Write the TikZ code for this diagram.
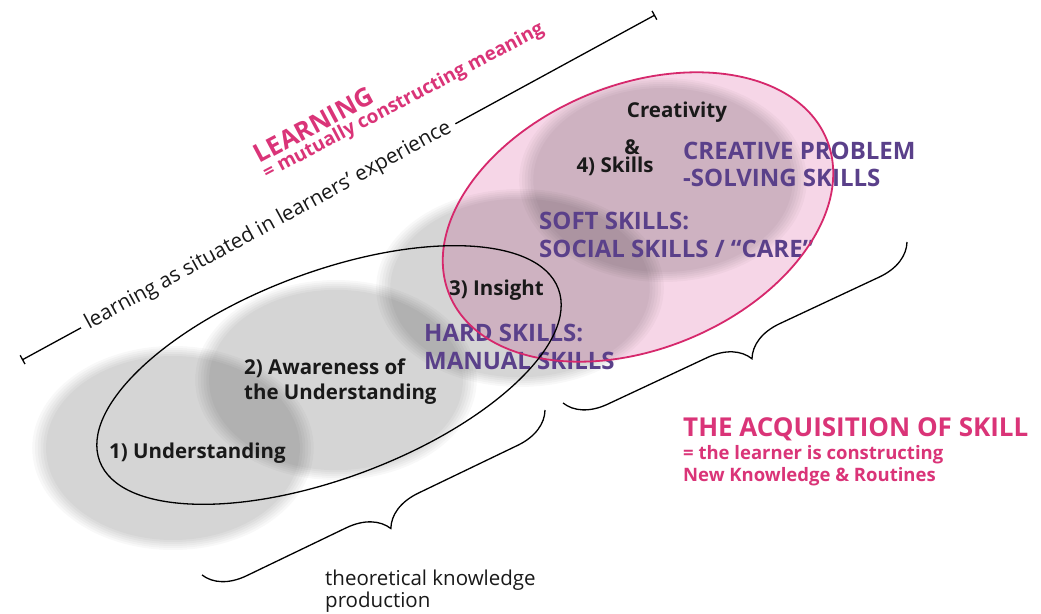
\documentclass[tikz,border=0pt]{standalone}
\usepackage{fontspec}
\setmainfont{Open Sans}
\usetikzlibrary{arrows.meta,decorations.pathreplacing}
\definecolor{pinkline}{RGB}{214,40,108}
\definecolor{pinktext}{RGB}{218,52,120}
\definecolor{pinkfill}{RGB}{246,214,231}
\definecolor{purpletext}{RGB}{90,64,138}
\definecolor{labeltext}{RGB}{25,25,25}
\begin{document}
\begin{tikzpicture}[x=1pt,y=1pt,
  blobfill/.style={fill=black, fill opacity=0.026},
  lbl/.style={font=\fontsize{20.5}{24}\selectfont\bfseries, text=labeltext, inner sep=0},
  skill/.style={font=\fontsize{24}{28}\selectfont\bfseries, text=purpletext, inner sep=0},
  pinkbig/.style={font=\fontsize{26}{30}\selectfont\bfseries, text=pinktext, inner sep=0},
  pinksmall/.style={font=\fontsize{18.5}{21}\selectfont\bfseries, text=pinktext, inner sep=0},
  plain/.style={font=\fontsize{20.5}{23}\selectfont, text=labeltext, inner sep=0},
  curlybrace/.style={decorate, decoration={brace, amplitude=40pt}, line width=1.3pt},
  tick/.style={line width=1.3pt, {Bar[width=10pt]}-{Bar[width=10pt]}}
]
\useasboundingbox (0,0) rectangle (1041,613);
\fill[white] (0,0) rectangle (1041,613);

% pink skill area fill
\fill[pinkfill, rotate around={22.4:(638,396)}] (638,396) ellipse[x radius=204, y radius=132];

% gray blobs (soft edges by layering)
\foreach \cx/\cy/\rx/\ry in {173/165/138/100, 336/233/138/98, 520/325/141/97, 663/433/141/100}{
  \foreach \s in {1.02,1,0.98,0.96,0.94,0.92}{
    \fill[blobfill] (\cx,\cy) ellipse[x radius=\s*\rx, y radius=\s*\ry];
  }
}

% labels
\node[lbl, anchor=base] (creat) at (677,495) {Creativity};
\node[lbl, anchor=base] (amp) at (632,458) {\&};
\node[lbl, anchor=base] (sk4) at (615,440) {4) Skills};
\node[lbl, anchor=base west] (ins) at (449,317) {3) Insight};
\node[lbl, anchor=base west] (aw1) at (244,238) {2) Awareness of};
\node[lbl, anchor=base west] (aw2) at (244,213) {the Understanding};
\node[lbl, anchor=base west] (und) at (109,154) {1) Understanding};

\node[skill, anchor=base west] (cp1) at (683,453) {CREATIVE PROBLEM};
\node[skill, anchor=base west] (cp2) at (683,426) {-SOLVING SKILLS};
\node[skill, anchor=base west] (ss1) at (539,383) {SOFT SKILLS:};
\node[skill, anchor=base west] (ss2) at (539,355) {SOCIAL SKILLS / “CARE”};
\node[skill, anchor=base west] (hs1) at (424,271) {HARD SKILLS:};
\node[skill, anchor=base west] (hs2) at (424,243) {MANUAL SKILLS};

\node[pinkbig, anchor=base west] (acq) at (683,176) {THE ACQUISITION OF SKILL};
\node[pinksmall, anchor=base west] (acq2) at (683,153) {= the learner is constructing};
\node[pinksmall, anchor=base west] (acq3) at (683,131) {New Knowledge \& Routines};

\node[plain, anchor=base west] (th1) at (325,28) {theoretical knowledge};
\node[plain, anchor=base west] (th2) at (325,6) {production};

\node[font=\fontsize{25.5}{28}\selectfont\bfseries, text=pinktext, inner sep=0, rotate=28, anchor=base] (learn) at (318,480) {LEARNING};
\node[font=\fontsize{19}{21}\selectfont\bfseries, text=pinktext, inner sep=0, rotate=27.8, anchor=base] (learn2) at (406,507) {= mutually constructing meaning};

% outlines
\draw[pinkline, line width=1.8pt, rotate around={22.4:(638,396)}] (638,396) ellipse[x radius=204, y radius=132];
\draw[line width=1.3pt, rotate around={20.6:(329,238)}] (329,238) ellipse[x radius=245, y radius=103];

% long line with text
\coordinate (lstart) at (22,253);
\coordinate (lend) at (655,598);
\draw[tick] (lstart) -- node[pos=0.389, sloped, fill=white, inner ysep=2pt, inner xsep=6pt, font=\fontsize{20.8}{23}\selectfont, text=labeltext] (situated) {learning as situated in learners’ experience} (lend);

% braces
\coordinate (b1a) at (545,203);
\coordinate (b1b) at (202,38);
\draw[curlybrace] (b1a) -- (b1b);
\coordinate (b2a) at (907,371);
\coordinate (b2b) at (563,210);
\draw[curlybrace] (b2a) -- (b2b);
\end{tikzpicture}
\end{document}
